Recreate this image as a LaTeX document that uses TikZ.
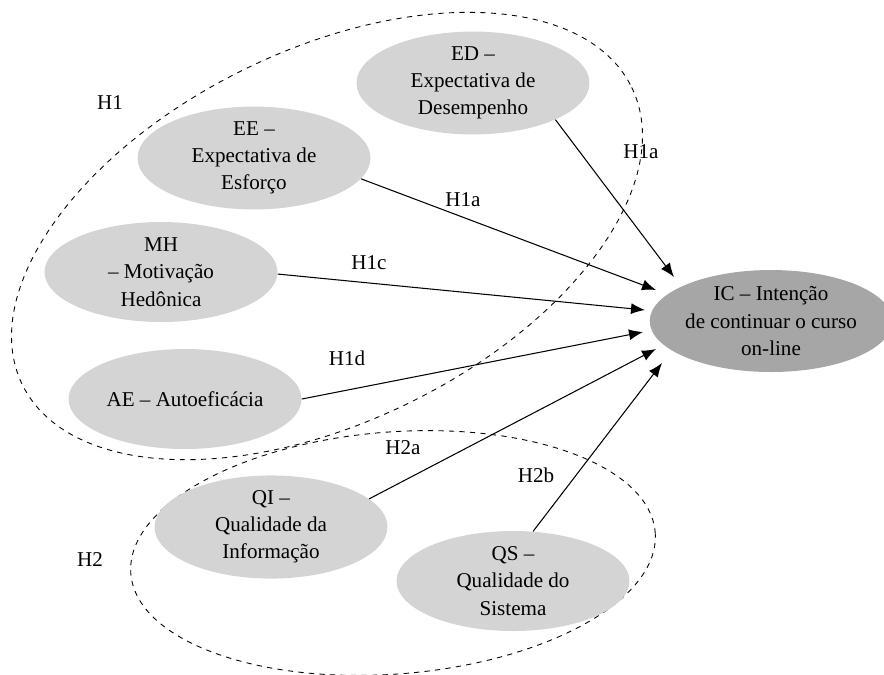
\documentclass[tikz,border=0pt]{standalone}
\usepackage{fontspec}
\setmainfont{Liberation Serif}
\usetikzlibrary{shapes.geometric,arrows.meta}

\begin{document}
\begin{tikzpicture}
[x=0.02cm,y=-0.02cm,
 nodedecorate/.style={shape=ellipse,fill=black!17,inner sep=0pt,
   minimum width=4.66cm,minimum height=2cm,align=center,
   font=\fontsize{12}{15.5}\selectfont},
 maindecorate/.style={nodedecorate,fill=black!35,minimum width=4.6cm,
   minimum height=2.04cm},
 linedecorate/.style={-{Latex[length=2.8mm,width=2.2mm]},line width=0.6pt},
 groupdecorate/.style={dashed,line width=0.5pt},
 labeldecorate/.style={font=\fontsize{12}{14}\selectfont}]
\useasboundingbox (0,0) rectangle (884,674);
%% groups
\draw[groupdecorate,shift={(327,236)},rotate=26] (0,0) ellipse [x radius=339,y radius=186];
\draw[groupdecorate,shift={(393,553)},rotate=4.5] (0,0) ellipse [x radius=263,y radius=121];
%% nodes or ellipses
\foreach \nodename/\x/\y/\nodetext in {ED/473/83/{ED –\\Expectativa de\\Desempenho},
  EE/254/158/{EE –\\Expectativa de\\Esforço}, MH/161/272/{MH\\– Motivação\\Hedônica},
  AE/185/399/{AE – Autoeficácia}, QI/271/527/{QI –\\Qualidade da\\Informação},
  QS/513/581/{QS –\\Qualidade do\\Sistema}} {
  \node (\nodename) at (\x,\y) [nodedecorate] {\nodetext};
}
\node (IC) at (771,321) [maindecorate] {IC – Intenção\\de continuar o curso\\on-line};
%% arrow ends
\foreach \cname/\x/\y in {tED/674/277, tEE/656/290, tMH/645/310,
  tAE/643/332, tQI/656/349, tQS/662/363} {
  \coordinate (\cname) at (\x,\y);
}
%% edges or arrows
\path
\foreach \startnode/\endnode in {ED.-24/tED, EE.-11/tEE, MH.-1/tMH,
  AE.east/tAE, QI.16/tQI, QS.68/tQS} {
  (\startnode) edge[linedecorate] (\endnode)
};
%% labels
\foreach \nodename/\x/\y/\nodetext in {lH1/110/103/H1, lH2/90/560/H2,
  lHaED/641/152/H1a, lHaEE/463/200/H1a, lHc/369/263/H1c, lHd/347/358/H1d,
  lHa/403/448/H2a, lHb/536/475/H2b} {
  \node (\nodename) at (\x,\y) [labeldecorate] {\nodetext};
}
\end{tikzpicture}
\end{document}
